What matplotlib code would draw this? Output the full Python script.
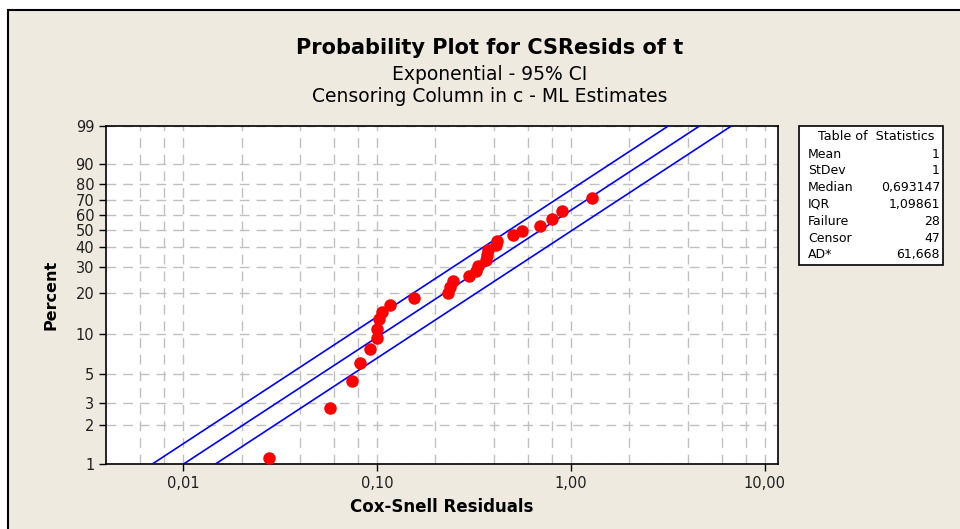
import numpy as np
import matplotlib
matplotlib.use('Agg')
import matplotlib.pyplot as plt
from matplotlib.patches import Rectangle

plt.rcParams['font.family'] = ['DejaVu Sans']

# Cox-Snell residuals of the failures and their plotting positions (percent)
residuals = [0.0277, 0.0573, 0.0743, 0.0818, 0.0920, 0.100, 0.100, 0.1024,
             0.1061, 0.1167, 0.155, 0.232, 0.238, 0.246, 0.298, 0.324,
             0.332, 0.365, 0.369, 0.373, 0.410, 0.416, 0.502, 0.558,
             0.692, 0.798, 0.899, 1.283]
percents = [1.11, 2.73, 4.42, 6.07, 7.75, 9.39, 10.96, 13.0,
            14.6, 16.4, 18.4, 20.0, 22.0, 24.2, 26.2, 28.2,
            30.5, 33.3, 35.8, 38.5, 41.3, 43.6, 47.2, 49.6,
            52.8, 57.4, 62.7, 71.3]

# ML estimate of the exponential mean and its 95% CI
mean_est = 1.0
mean_ci = [0.69, 1.46]

x_ticks = [0.01, 0.1, 1, 10]
x_tick_labels = ['0,01', '0,10', '1,00', '10,00']
x_grid = [0.006, 0.008, 0.02, 0.04, 0.06, 0.08, 0.2, 0.4, 0.6, 0.8, 2, 4, 6, 8]
y_ticks = [1, 2, 3, 5, 10, 20, 30, 40, 50, 60, 70, 80, 90, 99]

stat_names = ['Mean', 'StDev', 'Median', 'IQR', 'Failure', 'Censor', 'AD*']
stat_values = ['1', '1', '0,693147', '1,09861', '28', '47', '61,668']


def fwd(p):
    p = np.clip(np.asarray(p, dtype=float), 1e-6, 100 - 1e-9)
    return np.log10(-np.log(1 - p / 100.0))


def inv(t):
    return 100.0 * (1 - np.exp(-10 ** np.asarray(t, dtype=float)))


def main():
    fig = plt.figure(figsize=(9.6, 5.29), dpi=100)
    fig.patch.set_facecolor('white')
    # beige panel with black frame (runs off the right/bottom edge)
    fig.patches.append(Rectangle((8 / 960, -0.05), 1.0, 1 - 10 / 529 + 0.05,
                                 transform=fig.transFigure, facecolor='#EEEAE0',
                                 edgecolor='black', lw=1.5, zorder=-10))

    ax = fig.add_axes([106 / 960, 1 - 464 / 529, (778 - 106) / 960, (464 - 126) / 529])
    ax.set_zorder(5)
    ax.set_facecolor('white')
    ax.set_xscale('log')
    ax.set_yscale('function', functions=(fwd, inv))
    ax.set_xlim(0.004, 11.7)
    ax.set_ylim(1, 99)

    xs = np.geomspace(0.004, 11.7, 400)
    for m in [mean_ci[0], mean_est, mean_ci[1]]:
        ax.plot(xs, 100 * (1 - np.exp(-xs / m)), color='#0000FF', lw=1.2, zorder=3)

    ax.plot(residuals, percents, 'o', color='#FF0000', markersize=9,
            markeredgewidth=0, zorder=4)

    ax.set_xticks(x_ticks)
    ax.set_xticklabels(x_tick_labels)
    ax.set_xticks(x_grid, minor=True)
    ax.set_yticks(y_ticks)
    ax.set_yticklabels([str(v) for v in y_ticks])
    ax.yaxis.set_minor_locator(matplotlib.ticker.NullLocator())
    ax.tick_params(which='major', length=5, width=1, labelsize=10.5,
                   color='black', labelcolor='#202020')
    ax.tick_params(which='minor', length=0)
    ax.grid(which='both', color='#C0C0C0', linestyle=(0, (7, 5)), lw=1.0)
    for s in ax.spines.values():
        s.set_linewidth(1.2)

    ax.set_xlabel('Cox-Snell Residuals', fontsize=12, fontweight='bold', labelpad=5)
    ax.set_ylabel('Percent', fontsize=11.5, fontweight='bold', labelpad=12)

    fig.text(0.51, 1 - 48 / 529, 'Probability Plot for CSResids of t', ha='center',
             va='center', fontsize=15, fontweight='bold')
    fig.text(0.51, 1 - 75 / 529, 'Exponential - 95% CI', ha='center', va='center',
             fontsize=13.5)
    fig.text(0.51, 1 - 97 / 529, 'Censoring Column in c - ML Estimates', ha='center',
             va='center', fontsize=13.5)

    # table of statistics
    fig.patches.append(Rectangle((799 / 960, 1 - 265 / 529), 144 / 960, 139 / 529,
                                 transform=fig.transFigure, facecolor='white',
                                 edgecolor='black', lw=1.2, zorder=1))
    fig.text(876 / 960, 1 - 137 / 529, 'Table of  Statistics', ha='center', va='center',
             fontsize=9.2)
    for i, (n, v) in enumerate(zip(stat_names, stat_values)):
        y = 1 - (154 + i * 16.8) / 529
        fig.text(808 / 960, y, n, ha='left', va='center', fontsize=9)
        fig.text(940 / 960, y, v, ha='right', va='center', fontsize=9)

    fig.savefig('out.png', dpi=100)


if __name__ == '__main__':
    main()
